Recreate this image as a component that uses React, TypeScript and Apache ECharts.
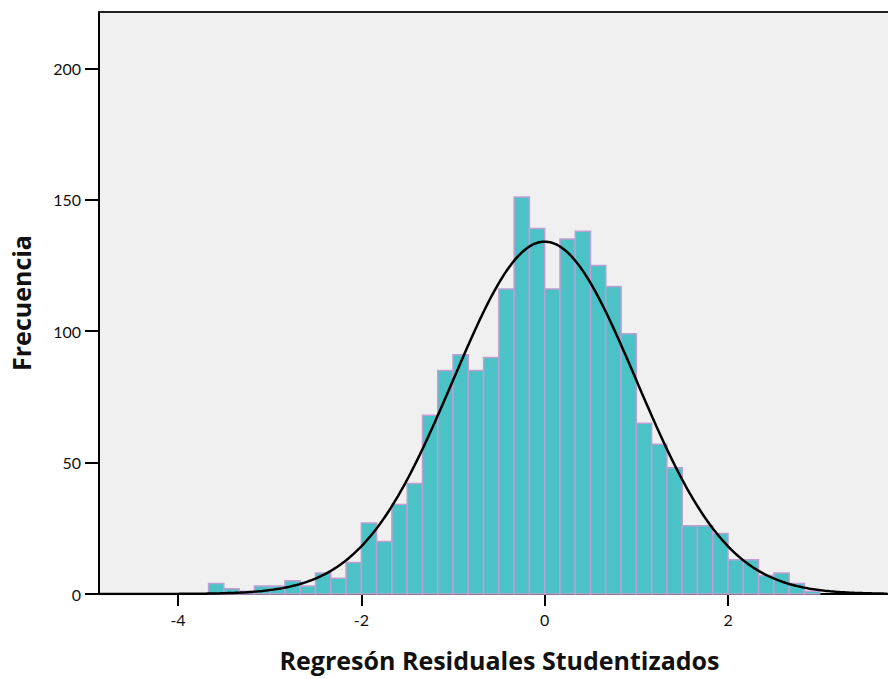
import React, { useEffect, useRef } from "react";
import * as echarts from "echarts";

// Histogram bins (lower edge of first bin and common bin width)
const firstBinStart = -11 / 3;
const binWidth = 1 / 6;
const counts = [
  4, 2, 1, 3, 3, 5, 3, 8, 6, 12,
  27, 20, 34, 42, 68, 85, 91, 85, 90, 116,
  151, 139, 116, 135, 138, 125, 117, 99, 65, 57,
  48, 26, 26, 23, 13, 13, 7, 8, 4, 1,
];
// Fitted normal curve parameters (as printed by SPSS: mean ~0, sd ~1)
const curveMean = 0;
const curveSd = 1;

const xTicks = [-4, -2, 0, 2];
const yTicks = [0, 50, 100, 150, 200];
const xTitle = "Regresón Residuales Studentizados";
const yTitle = "Frecuencia";

const X_MIN = -4.862;
const X_MAX = 3.745;
const Y_MAX = 221.4;

export default function App() {
  const ref = useRef<HTMLDivElement>(null);
  useEffect(() => {
    if (!ref.current) return;
    const chart = echarts.init(ref.current, undefined, { renderer: "svg" });
    const bins = counts.map((c, i) => [
      firstBinStart + i * binWidth,
      firstBinStart + (i + 1) * binWidth,
      c,
    ]);
    const n = counts.reduce((a, b) => a + b, 0);
    const curve: number[][] = [];
    for (let x = X_MIN; x <= X_MAX + 1e-9; x += 0.02) {
      const z = (x - curveMean) / curveSd;
      curve.push([x, (n * binWidth) / (curveSd * Math.sqrt(2 * Math.PI)) * Math.exp(-0.5 * z * z)]);
    }
    const labelFont = "Lato, 'Open Sans', sans-serif";
    const titleFont = "'Open Sans', Lato, sans-serif";
    chart.setOption({
      animation: false,
      backgroundColor: "#ffffff",
      grid: {
        left: 99,
        right: 0,
        top: 12,
        bottom: 85,
        show: true,
        backgroundColor: "#f0f0f0",
        borderWidth: 0,
      },
      xAxis: [
        {
          type: "value",
          min: X_MIN,
          max: X_MAX,
          position: "bottom",
          name: xTitle,
          nameLocation: "middle",
          nameGap: 53,
          nameTextStyle: {
            fontFamily: titleFont,
            fontSize: 25,
            fontWeight: "bold",
            color: "#111",
            padding: [0, 0, 0, 12],
          },
          axisLine: { show: true, onZero: false, lineStyle: { color: "#000", width: 2 } },
          axisTick: { show: true, length: 12, lineStyle: { color: "#000", width: 2 }, customValues: xTicks },
          axisLabel: {
            margin: 17,
            fontFamily: labelFont,
            fontSize: 16,
            color: "#111",
            customValues: xTicks,
          },
          splitLine: { show: false },
        },
        {
          type: "value",
          min: X_MIN,
          max: X_MAX,
          position: "top",
          axisLine: { show: true, onZero: false, lineStyle: { color: "#222", width: 2 } },
          axisTick: { show: false },
          axisLabel: { show: false },
          splitLine: { show: false },
        },
      ],
      yAxis: {
        type: "value",
        min: 0,
        max: Y_MAX,
        position: "left",
        name: yTitle,
        nameLocation: "middle",
        nameGap: 66,
        nameTextStyle: {
          fontFamily: titleFont,
          fontSize: 25,
          fontWeight: "bold",
          color: "#111",
        },
        axisLine: { show: true, onZero: false, lineStyle: { color: "#000", width: 2 } },
        axisTick: { show: true, length: 14, lineStyle: { color: "#000", width: 2 }, customValues: yTicks },
        axisLabel: {
          margin: 18,
          fontFamily: labelFont,
          fontSize: 16,
          color: "#111",
          customValues: yTicks,
        },
        splitLine: { show: false },
      },
      series: [
        {
          type: "custom",
          xAxisIndex: 0,
          data: bins,
          encode: { x: [0, 1], y: 2 },
          renderItem: (params: any, api: any) => {
            const p0 = api.coord([api.value(0), api.value(2)]);
            const p1 = api.coord([api.value(1), 0]);
            return {
              type: "rect",
              shape: { x: p0[0], y: p0[1], width: p1[0] - p0[0], height: p1[1] - p0[1] },
              style: { fill: "#4ac2c6", stroke: "#bf9fd2", lineWidth: 1.5 },
            };
          },
          z: 2,
        },
        {
          type: "line",
          xAxisIndex: 0,
          data: curve,
          showSymbol: false,
          symbol: "none",
          smooth: false,
          lineStyle: { color: "#000", width: 2.5 },
          z: 3,
        },
      ],
    });
    return () => chart.dispose();
  }, []);
  return (
    <div
      ref={ref}
      style={{ position: "fixed", left: 0, top: 0, width: 888, height: 679, background: "#fff" }}
    />
  );
}
